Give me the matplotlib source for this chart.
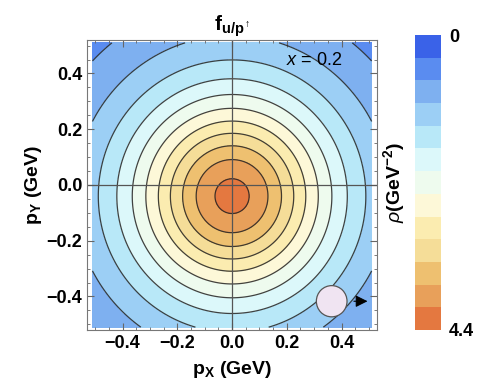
import numpy as np
import matplotlib
matplotlib.use("Agg")
import matplotlib.pyplot as plt
from matplotlib.colors import ListedColormap, BoundaryNorm

plt.rcParams['font.family'] = ['Liberation Sans', 'DejaVu Sans']
plt.rcParams['mathtext.fontset'] = 'custom'
plt.rcParams['mathtext.rm'] = 'Liberation Sans'
plt.rcParams['mathtext.bf'] = 'Liberation Sans:bold'
plt.rcParams['mathtext.it'] = 'Liberation Sans:italic'

# density profile fitted to the contour rings (GeV^-2)
peak = 4.17
width2 = 0.2341
power = 1.6
y_shift = -0.04

# colour bands of the legend, from 0 (top) to 4.4 (bottom)
rho_min = 0.0
rho_max = 4.4
band_colors = ['#3a62e8', '#5a8cf0', '#7eb0f0', '#9ccff5', '#b8e8f8',
               '#dcf8fa', '#eefbee', '#fdf8d8', '#fbecb0', '#f5dd98',
               '#eec070', '#e8a05a', '#e47840']
ticks = [-0.4, -0.2, 0.0, 0.2, 0.4]

levels = np.linspace(rho_min, rho_max, len(band_colors) + 1)
cmap = ListedColormap(band_colors)
norm = BoundaryNorm(levels, cmap.N)

px = np.linspace(-0.51, 0.51, 401)
X, Y = np.meshgrid(px, px)
R2 = X ** 2 + (Y - y_shift) ** 2
rho = peak * (1 + R2 / width2) ** (-power)

fig = plt.figure(figsize=(4.86, 3.85), dpi=100)
ax = fig.add_axes([0.179, 0.143, 0.597, 0.753])
cax = fig.add_axes([0.854, 0.143, 0.053, 0.766])

cf = ax.contourf(X, Y, rho, levels=levels, cmap=cmap, norm=norm)
ax.contour(X, Y, rho, levels=levels[1:-1], colors='#222222', linewidths=0.9, alpha=0.85)
ax.axhline(0, color='#555555', lw=0.9)
ax.axvline(0, color='#555555', lw=0.9)

ax.set_xlim(-0.53, 0.53)
ax.set_ylim(-0.52, 0.52)
ax.set_xticks(ticks)
ax.set_yticks(ticks)
ax.set_xticks(np.arange(-0.5, 0.51, 0.05), minor=True)
ax.set_yticks(np.arange(-0.5, 0.51, 0.05), minor=True)
ax.set_xticklabels([f'{t:.1f}'.replace('-', '\u2212') for t in ticks])
ax.set_yticklabels([f'{t:.1f}'.replace('-', '\u2212') for t in ticks])
ax.tick_params(which='both', direction='in', top=True, right=True, color='#666666')
ax.tick_params(which='major', length=5, width=0.8, labelsize=13)
ax.tick_params(which='minor', length=2.5, width=0.6)
for lab in ax.get_xticklabels() + ax.get_yticklabels():
    lab.set_fontweight('bold')
for s in ax.spines.values():
    s.set_color('#777777')
    s.set_linewidth(0.8)

ax.set_xlabel(r'$\mathbf{p}_\mathbf{X}$ (GeV)', fontsize=14, fontweight='bold', labelpad=5)
ax.set_ylabel(r'$\mathbf{p}_\mathbf{Y}$ (GeV)', fontsize=14, fontweight='bold', labelpad=2)
ax.set_title(r'$\mathbf{f}_{\mathbf{u/p}^{\uparrow}}$', fontsize=15, pad=7)

ax.text(0.30, 0.445, r'$x$ = 0.2', fontsize=13, ha='center', va='center')

circ = plt.Circle((0.364, -0.417), 0.056, facecolor='#f0e4f2', edgecolor='#555555', lw=0.9, zorder=5)
ax.add_patch(circ)
ax.annotate('', xy=(0.505, -0.417), xytext=(0.435, -0.417),
            arrowprops=dict(arrowstyle='-|>', color='black', lw=0.8, mutation_scale=18), zorder=6)

cb = fig.colorbar(cf, cax=cax, ticks=[rho_min, rho_max])
cax.invert_yaxis()
cb.outline.set_visible(False)
cb.set_ticklabels(['0', '4.4'])
cax.minorticks_off()
cax.tick_params(which='both', length=0, labelsize=13, pad=6)
for lab in cax.get_yticklabels():
    lab.set_fontweight('bold')
cax.yaxis.set_label_position('left')
cax.set_ylabel(r'$\rho$(GeV$^{\mathbf{-2}}$)', fontsize=14, fontweight='bold', labelpad=6)

fig.savefig('out.png', dpi=100)
